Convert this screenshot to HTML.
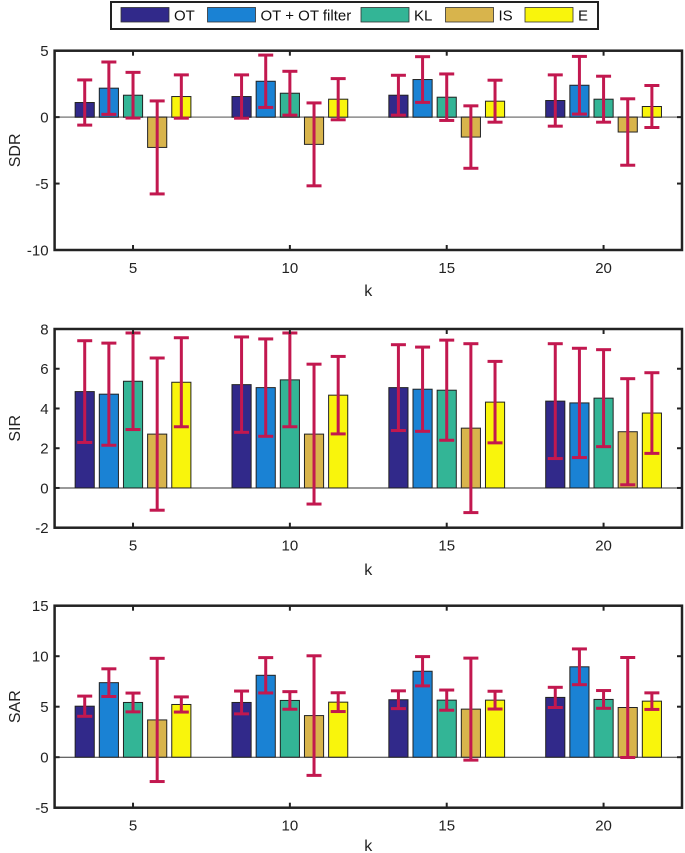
<!DOCTYPE html>
<html><head><meta charset="utf-8"><style>
html,body{margin:0;padding:0;background:#fff;}
svg{display:block;font-family:"Liberation Sans",Arial,sans-serif;}
</style></head><body>
<svg id="chart" width="685" height="853" viewBox="0 0 685 853">
  <g id="legend"></g>
  <g id="panels"></g>
</svg>
<script>
const categories = [5, 10, 15, 20];
const seriesNames = ["OT", "OT + OT filter", "KL", "IS", "E"];
const seriesColors = ["#31298a", "#1a82d4", "#33b596", "#d8b44c", "#f9f50c"];
const sdrValues = [[1.1,1.55,1.65,1.25],[2.18,2.7,2.83,2.4],[1.65,1.8,1.5,1.35],[-2.28,-2.05,-1.5,-1.12],[1.55,1.35,1.2,0.8]];
const sdrErrors = [[1.7,1.63,1.5,1.93],[1.97,1.97,1.72,2.17],[1.72,1.65,1.75,1.73],[3.5,3.12,2.35,2.5],[1.63,1.55,1.58,1.58]];
const sirValues = [[4.85,5.2,5.05,4.37],[4.72,5.05,4.97,4.28],[5.37,5.44,4.92,4.52],[2.71,2.71,3.01,2.83],[5.32,4.67,4.32,3.77]];
const sirErrors = [[2.56,2.4,2.16,2.89],[2.57,2.45,2.12,2.75],[2.43,2.36,2.52,2.44],[3.83,3.52,4.25,2.67],[2.24,1.95,2.05,2.03]];
const sarValues = [[5.05,5.42,5.69,5.92],[7.38,8.11,8.51,8.95],[5.42,5.62,5.65,5.72],[3.69,4.12,4.76,4.92],[5.22,5.45,5.65,5.55]];
const sarErrors = [[1.0,1.13,0.88,1.0],[1.37,1.75,1.45,1.77],[0.93,0.87,1.0,0.88],[6.1,5.92,5.05,4.95],[0.75,0.93,0.88,0.82]];
const sdrTicks = [5, 0, -5, -10];
const sirTicks = [8, 6, 4, 2, 0, -2];
const sarTicks = [15, 10, 5, 0, -5];

const NS = "http://www.w3.org/2000/svg";
function mk(tag, attrs, parent) {
  const e = document.createElementNS(NS, tag);
  for (const k in attrs) e.setAttribute(k, attrs[k]);
  parent.appendChild(e);
  return e;
}
const svg = document.getElementById("chart");
const panelsG = document.getElementById("panels");

// legend
const lg = document.getElementById("legend");
const lbox = mk("rect", {x:111, y:2, width:487, height:27, fill:"#fff", stroke:"#222", "stroke-width":2}, lg);


const swX = [121, 207.5, 361, 445.5, 525];
seriesNames.forEach((n, i) => {
  const g = mk("g", {}, lg);
  
  
  mk("rect", {x:swX[i], y:7.5, width:48, height:14.5, fill:seriesColors[i], stroke:"#333", "stroke-width":0.8}, g);
  const t = mk("text", {x:swX[i]+53, y:20.5, "font-size":15, fill:"#111"}, g);
  t.textContent = n;
});

const xL = 54.6, xR = 682;
const xMin = 2.5, xMax = 22.5;
function xs(v) { return xL + (v - xMin) / (xMax - xMin) * (xR - xL); }
const offsets = [-1.54, -0.77, 0, 0.77, 1.54];
const barW = 0.61;

function panel(name, top, bottom, yMax, yMin, ticks, vals, errs, zeroGray, labelY, kY) {
  const g = mk("g", {}, panelsG);
  
  
  const ys = v => top + (yMax - v) / (yMax - yMin) * (bottom - top);
  // zero line
  const zl = mk("line", {x1:xL, x2:xR, y1:ys(0), y2:ys(0), stroke: zeroGray ? "#8a8a8a" : "#333", "stroke-width": zeroGray ? 1.5 : 1}, g);
  
  
  // bars
  vals.forEach((arr, s) => {
    arr.forEach((v, c) => {
      const cx = xs(categories[c] + offsets[s]);
      const w = xs(barW) - xs(0);
      const y0 = ys(0), y1 = ys(v);
      const r = mk("rect", {x:cx - w/2, y:Math.min(y0,y1), width:w, height:Math.abs(y1-y0), fill:seriesColors[s], stroke:"#222", "stroke-width":1}, g);
      
      
    });
  });
  // error bars
  vals.forEach((arr, s) => {
    arr.forEach((v, c) => {
      const cx = xs(categories[c] + offsets[s]);
      const e = errs[s][c];
      const eg = mk("g", {stroke:"#c2184f", "stroke-width":3}, g);
      
      
      mk("line", {x1:cx, x2:cx, y1:ys(v+e), y2:ys(v-e)}, eg);
      mk("line", {x1:cx-7.5, x2:cx+7.5, y1:ys(v+e), y2:ys(v+e)}, eg);
      mk("line", {x1:cx-7.5, x2:cx+7.5, y1:ys(v-e), y2:ys(v-e)}, eg);
    });
  });
  // frame
  const fr = mk("rect", {x:xL, y:top, width:xR-xL, height:bottom-top, fill:"none", stroke:"#222", "stroke-width":2.5}, g);
  
  
  // y ticks
  ticks.forEach(t => {
    const y = ys(t);
    mk("line", {x1:xL, x2:xL+5, y1:y, y2:y, stroke:"#222", "stroke-width":2}, g);
    mk("line", {x1:xR-5, x2:xR, y1:y, y2:y, stroke:"#222", "stroke-width":2}, g);
    const tx = mk("text", {x:xL-6, y:y+5.5, "font-size":15, "text-anchor":"end", fill:"#222"}, g);
    
    
    tx.textContent = t;
  });
  // x ticks
  categories.forEach(c => {
    const x = xs(c);
    mk("line", {x1:x, x2:x, y1:bottom, y2:bottom-5, stroke:"#222", "stroke-width":2}, g);
    mk("line", {x1:x, x2:x, y1:top, y2:top+5, stroke:"#222", "stroke-width":2}, g);
    const tx = mk("text", {x:x, y:bottom+23, "font-size":15, "text-anchor":"middle", fill:"#222"}, g);
    
    
    tx.textContent = c;
  });
  const yl = mk("text", {x:0, y:0, "font-size":16, "text-anchor":"middle", fill:"#222", transform:"translate(20," + ((top+bottom)/2) + ") rotate(-90)"}, g);
  
  
  yl.textContent = labelY;
  const kl = mk("text", {x:(xL+xR)/2, y:kY, "font-size":16, "text-anchor":"middle", fill:"#222"}, g);
  
  
  kl.textContent = "k";
}

panel("sdr", 50.7, 250, 5, -10, sdrTicks, sdrValues, sdrErrors, true, "SDR", 296);
panel("sir", 329, 527.7, 8, -2, sirTicks, sirValues, sirErrors, false, "SIR", 575);
panel("sar", 605.7, 807.7, 15, -5, sarTicks, sarValues, sarErrors, false, "SAR", 851);
</script>
</body></html>
